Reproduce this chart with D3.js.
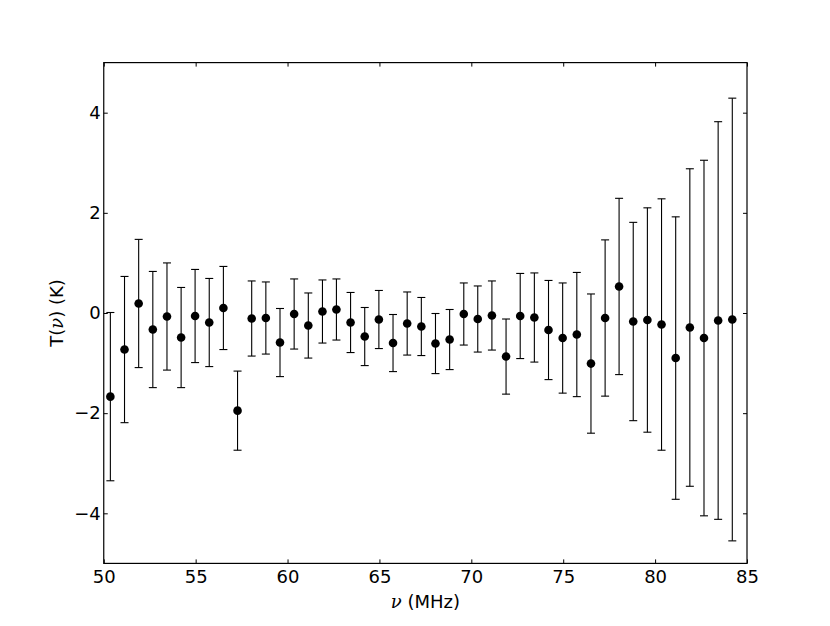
<!DOCTYPE html>
<html>
<head>
<meta charset="utf-8">
<script src="https://cdn.jsdelivr.net/npm/d3@7"></script>
<style>
    body { margin: 0; background: #fff; }
    text { font-family: "DejaVu Sans", sans-serif; fill: #000; }
    .ticktext { font-size: 18px; }
    .label { font-size: 18px; }
    .nu { font-family: "DejaVu Serif", serif; font-style: italic; }
</style>
</head>
<body>
<script>
// Observed frequencies (MHz), temperatures (K) and 1-sigma errors (K)
const freqs = [50.36, 51.13, 51.90, 52.67, 53.44, 54.21, 54.97, 55.74, 56.51, 57.28,
    58.05, 58.82, 59.59, 60.36, 61.13, 61.90, 62.66, 63.43, 64.20, 64.97,
    65.74, 66.51, 67.28, 68.05, 68.82, 69.59, 70.35, 71.12, 71.89, 72.66,
    73.43, 74.20, 74.97, 75.74, 76.51, 77.28, 78.04, 78.81, 79.58, 80.35,
    81.12, 81.89, 82.66, 83.43, 84.20];
const temps = [-1.67, -0.73, 0.19, -0.33, -0.07, -0.49, -0.06, -0.19, 0.10, -1.95,
    -0.11, -0.10, -0.59, -0.02, -0.25, 0.03, 0.07, -0.19, -0.47, -0.13,
    -0.60, -0.21, -0.27, -0.61, -0.53, -0.02, -0.12, -0.05, -0.87, -0.06,
    -0.09, -0.34, -0.50, -0.43, -1.01, -0.10, 0.53, -0.17, -0.14, -0.23,
    -0.90, -0.29, -0.50, -0.15, -0.13];
const errs = [1.68, 1.46, 1.28, 1.16, 1.07, 1.00, 0.93, 0.88, 0.83, 0.79,
    0.75, 0.72, 0.68, 0.70, 0.65, 0.63, 0.61, 0.60, 0.58, 0.58,
    0.57, 0.63, 0.58, 0.60, 0.60, 0.62, 0.66, 0.69, 0.75, 0.85,
    0.89, 0.99, 1.10, 1.24, 1.39, 1.56, 1.76, 1.98, 2.24, 2.51,
    2.82, 3.17, 3.55, 3.97, 4.42];

const xTicks = [50, 55, 60, 65, 70, 75, 80, 85];
const yTicks = [-4, -2, 0, 2, 4];

const fig = {width: 830, height: 626};
const plot = {left: 103.75, right: 747, top: 62.6, bottom: 563.4};

const x = d3.scaleLinear().domain([50, 85]).range([plot.left, plot.right]);
const y = d3.scaleLinear().domain([-5, 5]).range([plot.bottom, plot.top]);

const data = freqs.map((f, i) => ({f: f, t: temps[i], e: errs[i]}));

const svg = d3.select("body")
    .append("svg")
    .attr("width", fig.width)
    .attr("height", fig.height);

svg.append("rect")
    .attr("width", fig.width)
    .attr("height", fig.height)
    .attr("fill", "#fff");

// error bars
const bars = svg.append("g")
    .attr("stroke", "#000")
    .attr("stroke-width", 1.1)
    .selectAll("g")
    .data(data)
    .enter()
    .append("g");

bars.append("line")
    .attr("x1", d => x(d.f)).attr("x2", d => x(d.f))
    .attr("y1", d => y(d.t + d.e)).attr("y2", d => y(d.t - d.e));

const cap = 4;
bars.append("line")
    .attr("x1", d => x(d.f) - cap).attr("x2", d => x(d.f) + cap)
    .attr("y1", d => y(d.t + d.e)).attr("y2", d => y(d.t + d.e));

bars.append("line")
    .attr("x1", d => x(d.f) - cap).attr("x2", d => x(d.f) + cap)
    .attr("y1", d => y(d.t - d.e)).attr("y2", d => y(d.t - d.e));

// markers
svg.append("g")
    .selectAll("circle")
    .data(data)
    .enter()
    .append("circle")
    .attr("cx", d => x(d.f))
    .attr("cy", d => y(d.t))
    .attr("r", 4.3)
    .attr("fill", "#000");

// axes: ticks inside on all four sides
const tickLen = 4;
const fmt = d => (d < 0 ? "\u2212" + Math.abs(d) : String(d));

const axisBottom = d3.axisBottom(x).tickValues(xTicks).tickSizeInner(-tickLen).tickSizeOuter(0).tickPadding(7).tickFormat(fmt);
const axisTop = d3.axisTop(x).tickValues(xTicks).tickSizeInner(-tickLen).tickSizeOuter(0).tickFormat("");
const axisLeft = d3.axisLeft(y).tickValues(yTicks).tickSizeInner(-tickLen).tickSizeOuter(0).tickPadding(3).tickFormat(fmt);
const axisRight = d3.axisRight(y).tickValues(yTicks).tickSizeInner(-tickLen).tickSizeOuter(0).tickFormat("");

function styleAxis(g) {
    g.select(".domain").remove();
    g.selectAll(".tick line").attr("stroke", "#000").attr("stroke-width", 1);
    g.selectAll(".tick text").attr("class", "ticktext").attr("font-family", null).attr("font-size", null);
}

svg.append("g").attr("transform", "translate(0," + plot.bottom + ")").call(axisBottom).call(styleAxis);
svg.append("g").attr("transform", "translate(0," + plot.top + ")").call(axisTop).call(styleAxis);
svg.append("g").attr("transform", "translate(" + plot.left + ",0)").call(axisLeft).call(styleAxis);
svg.append("g").attr("transform", "translate(" + plot.right + ",0)").call(axisRight).call(styleAxis);

// frame
svg.append("rect")
    .attr("x", plot.left)
    .attr("y", plot.top)
    .attr("width", plot.right - plot.left)
    .attr("height", plot.bottom - plot.top)
    .attr("fill", "none")
    .attr("stroke", "#000")
    .attr("stroke-width", 1.2);

// x label
const xl = svg.append("text")
    .attr("class", "label")
    .attr("x", (plot.left + plot.right) / 2)
    .attr("y", 608)
    .attr("text-anchor", "middle");
xl.append("tspan").attr("class", "nu").text("\u03bd");
xl.append("tspan").text(" (MHz)");

// y label
const yl = svg.append("text")
    .attr("class", "label")
    .attr("transform", "translate(63," + (plot.top + plot.bottom) / 2 + ") rotate(-90)")
    .attr("text-anchor", "middle");
yl.append("tspan").text("T(");
yl.append("tspan").attr("class", "nu").text("\u03bd");
yl.append("tspan").text(") (K)");
</script>
</body>
</html>
